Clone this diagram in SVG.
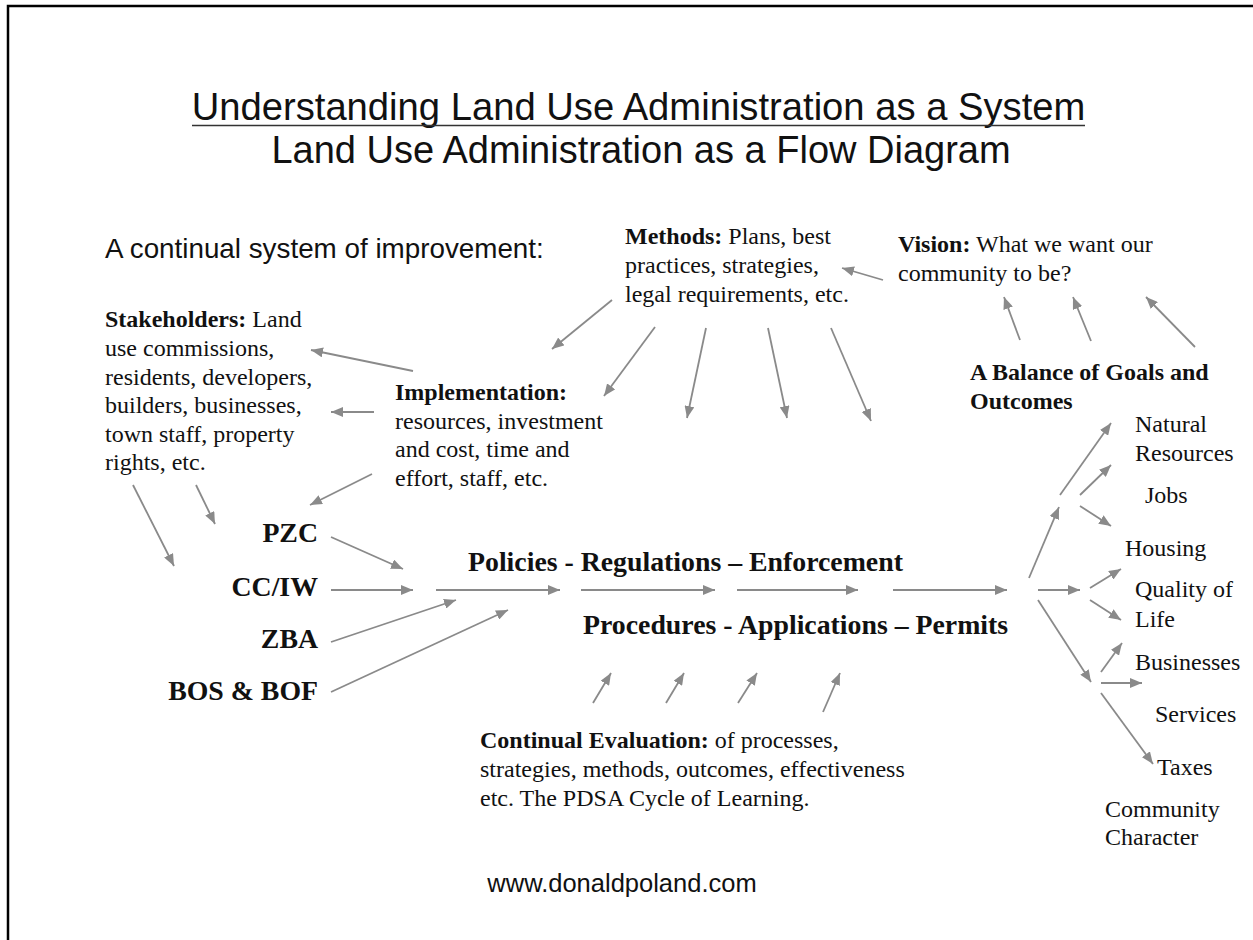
<svg xmlns="http://www.w3.org/2000/svg" width="1253" height="940" viewBox="0 0 1253 940">
  <style>
    .sans { font-family: "Liberation Sans", Arial, sans-serif; fill: #111; }
    .serif { font-family: "Liberation Serif", "Times New Roman", serif; fill: #111; font-size: 24px; }
    .b { font-weight: bold; }
    .big { font-family: "Liberation Serif", "Times New Roman", serif; font-weight: bold; font-size: 27.8px; fill: #111; }
    .arrow { stroke: #8a8a8a; stroke-width: 1.8; fill: none; marker-end: url(#head); }
  </style>
  <defs>
    <marker id="head" viewBox="0 0 12 10" refX="12" refY="5" markerWidth="12" markerHeight="10" markerUnits="userSpaceOnUse" orient="auto">
      <path d="M0,0 L12,5 L0,10 z" fill="#8a8a8a"/>
    </marker>
  </defs>

  <rect width="1253" height="940" fill="#ffffff"/>
  <!-- frame: left and top edges -->
  <path d="M8,940 V6 H1253" fill="none" stroke="#000" stroke-width="2.5"/>

  <!-- headings -->
  <g id="title">
    <text class="sans" x="638.5" y="120" font-size="38.2" text-anchor="middle">Understanding Land Use Administration as a System</text>
    <line x1="192" y1="125.5" x2="1085" y2="125.5" stroke="#333" stroke-width="1.6"/>
    <text class="sans" x="641" y="163" font-size="38" text-anchor="middle">Land Use Administration as a Flow Diagram</text>
  </g>
  <g id="intro">
    <text class="sans" x="105" y="258" font-size="27.8">A continual system of improvement:</text>
  </g>

  <g id="methods">
    <text class="serif" x="625" y="244"><tspan class="b">Methods:</tspan> Plans, best</text>
    <text class="serif" x="625" y="273">practices, strategies,</text>
    <text class="serif" x="625" y="302">legal requirements, etc.</text>
  </g>
  <g id="vision">
    <text class="serif" x="898" y="252"><tspan class="b">Vision:</tspan> What we want our</text>
    <text class="serif" x="898" y="281">community to be?</text>
  </g>
  <g id="stakeholders">
    <text class="serif" x="105" y="327"><tspan class="b">Stakeholders:</tspan> Land</text>
    <text class="serif" x="105" y="356">use commissions,</text>
    <text class="serif" x="105" y="385">residents, developers,</text>
    <text class="serif" x="105" y="413">builders, businesses,</text>
    <text class="serif" x="105" y="442">town staff, property</text>
    <text class="serif" x="105" y="470">rights, etc.</text>
  </g>
  <g id="implementation">
    <text class="serif b" x="395" y="400">Implementation:</text>
    <text class="serif" x="395" y="428.5">resources, investment</text>
    <text class="serif" x="395" y="457">and cost, time and</text>
    <text class="serif" x="395" y="485.5">effort, staff, etc.</text>
  </g>
  <g id="balance">
    <text class="serif b" x="970" y="380">A Balance of Goals and</text>
    <text class="serif b" x="970" y="409">Outcomes</text>
  </g>

  <g id="pzc"><text class="big" x="318" y="542" text-anchor="end">PZC</text></g>
  <g id="cciw"><text class="big" x="318" y="596" text-anchor="end">CC/IW</text></g>
  <g id="zba"><text class="big" x="318" y="648" text-anchor="end">ZBA</text></g>
  <g id="bos-bof"><text class="big" x="318" y="700" text-anchor="end">BOS &amp; BOF</text></g>

  <g id="policies"><text class="big" x="468" y="571">Policies - Regulations – Enforcement</text></g>
  <g id="procedures"><text class="big" x="583" y="634">Procedures - Applications – Permits</text></g>

  <g id="evaluation">
    <text class="serif" x="480" y="748"><tspan class="b">Continual Evaluation:</tspan> of processes,</text>
    <text class="serif" x="480" y="777">strategies, methods, outcomes, effectiveness</text>
    <text class="serif" x="480" y="806">etc. The PDSA Cycle of Learning.</text>
  </g>

  <g id="outcomes">
    <text class="serif" x="1135" y="432">Natural</text>
    <text class="serif" x="1135" y="461">Resources</text>
    <text class="serif" x="1145" y="503">Jobs</text>
    <text class="serif" x="1125" y="556">Housing</text>
    <text class="serif" x="1135" y="597">Quality of</text>
    <text class="serif" x="1135" y="627">Life</text>
    <text class="serif" x="1135" y="670">Businesses</text>
    <text class="serif" x="1155" y="722">Services</text>
    <text class="serif" x="1157" y="775">Taxes</text>
    <text class="serif" x="1105" y="817">Community</text>
    <text class="serif" x="1105" y="845">Character</text>
  </g>

  <g id="footer">
    <text class="sans" x="622" y="892" font-size="25.5" text-anchor="middle">www.donaldpoland.com</text>
  </g>

  <g id="connectors">
    <!-- methods fan -->
    <line class="arrow" x1="612" y1="300" x2="552" y2="349"/>
    <line class="arrow" x1="655" y1="327" x2="604" y2="396"/>
    <line class="arrow" x1="706" y1="328" x2="687" y2="418"/>
    <line class="arrow" x1="768" y1="328" x2="787" y2="418"/>
    <line class="arrow" x1="831" y1="328" x2="871" y2="421"/>
    <!-- vision feeds methods -->
    <line class="arrow" x1="883" y1="280" x2="842" y2="268"/>
    <!-- balance feeds vision -->
    <line class="arrow" x1="1020" y1="340" x2="1004" y2="297"/>
    <line class="arrow" x1="1091" y1="341" x2="1073" y2="297"/>
    <line class="arrow" x1="1195" y1="347" x2="1146" y2="297"/>
    <!-- implementation to stakeholders and PZC -->
    <line class="arrow" x1="413" y1="371" x2="311" y2="350"/>
    <line class="arrow" x1="374" y1="412" x2="331" y2="412"/>
    <line class="arrow" x1="372" y1="474" x2="310" y2="505"/>
    <!-- stakeholders down to the boards -->
    <line class="arrow" x1="196" y1="485" x2="215" y2="524"/>
    <line class="arrow" x1="133" y1="485" x2="174" y2="566"/>
    <!-- boards into policies -->
    <line class="arrow" x1="331" y1="537" x2="403" y2="569"/>
    <line class="arrow" x1="331" y1="590" x2="413" y2="590"/>
    <line class="arrow" x1="331" y1="642" x2="456" y2="600"/>
    <line class="arrow" x1="331" y1="692" x2="508" y2="610"/>
    <!-- main flow -->
    <line class="arrow" x1="436" y1="590" x2="560" y2="590"/>
    <line class="arrow" x1="581" y1="590" x2="715" y2="590"/>
    <line class="arrow" x1="737" y1="590" x2="858" y2="590"/>
    <line class="arrow" x1="893" y1="590" x2="1007" y2="590"/>
    <!-- evaluation feedback -->
    <line class="arrow" x1="593" y1="703" x2="611" y2="673"/>
    <line class="arrow" x1="666" y1="703" x2="684" y2="673"/>
    <line class="arrow" x1="738" y1="703" x2="757" y2="673"/>
    <line class="arrow" x1="823" y1="712" x2="840" y2="673"/>
    <!-- outcome fan -->
    <line class="arrow" x1="1029" y1="578" x2="1059" y2="507"/>
    <line class="arrow" x1="1060" y1="495" x2="1111" y2="423"/>
    <line class="arrow" x1="1080" y1="495" x2="1111" y2="465"/>
    <line class="arrow" x1="1080" y1="506" x2="1111" y2="526"/>
    <line class="arrow" x1="1038" y1="590" x2="1080" y2="590"/>
    <line class="arrow" x1="1090" y1="588" x2="1121" y2="569"/>
    <line class="arrow" x1="1090" y1="600" x2="1121" y2="620"/>
    <line class="arrow" x1="1038" y1="600" x2="1091" y2="682"/>
    <line class="arrow" x1="1101" y1="672" x2="1122" y2="643"/>
    <line class="arrow" x1="1101" y1="683" x2="1142" y2="683"/>
    <line class="arrow" x1="1101" y1="693" x2="1153" y2="764"/>
  </g>
</svg>
